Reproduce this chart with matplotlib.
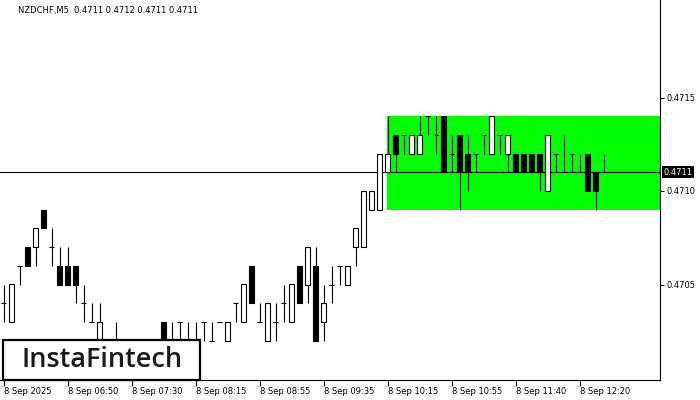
import matplotlib
matplotlib.use("Agg")
import matplotlib.pyplot as plt
from matplotlib.patches import Rectangle

# ---------------- data (NZDCHF, M5) ----------------
opens = [0.4704, 0.4703, 0.4706, 0.4707, 0.4707, 0.4709, 0.4707, 0.4706, 0.4706, 0.4706,
         0.4704, 0.4703, 0.4702, 0.4702, 0.4702, 0.4702, 0.4701, 0.4701, 0.4702, 0.4702,
         0.4703, 0.4702, 0.4703, 0.4702, 0.4702, 0.4703, 0.4702, 0.4703, 0.4702, 0.4704,
         0.4703, 0.4706, 0.4703, 0.4702, 0.4703, 0.4704, 0.4703, 0.4706, 0.4705, 0.4706,
         0.4703, 0.4705, 0.4706, 0.4705, 0.4707, 0.4707, 0.4709, 0.4709, 0.4711, 0.4713,
         0.4713, 0.4712, 0.4712, 0.4714, 0.4713, 0.4714, 0.4712, 0.4713, 0.4712, 0.4712,
         0.4713, 0.4712, 0.4713, 0.4712, 0.4712, 0.4712, 0.4712, 0.4712, 0.4710, 0.4712,
         0.4711, 0.4712, 0.4711, 0.4712, 0.4711, 0.4711]
highs = [0.4705, 0.4705, 0.4706, 0.4707, 0.4708, 0.4709, 0.4708, 0.4707, 0.4707, 0.4706,
         0.4705, 0.4704, 0.4704, 0.4702, 0.4703, 0.4702, 0.4702, 0.4702, 0.4702, 0.4702,
         0.4703, 0.4703, 0.4703, 0.4703, 0.4703, 0.4703, 0.4703, 0.4703, 0.4703, 0.4704,
         0.4705, 0.4706, 0.4704, 0.4704, 0.4704, 0.4705, 0.4705, 0.4706, 0.4707, 0.4707,
         0.4705, 0.4706, 0.4706, 0.4706, 0.4708, 0.4710, 0.4710, 0.4712, 0.4714, 0.4713,
         0.4713, 0.4713, 0.4714, 0.4714, 0.4714, 0.4714, 0.4713, 0.4713, 0.4713, 0.4712,
         0.4713, 0.4714, 0.4713, 0.4713, 0.4712, 0.4712, 0.4712, 0.4712, 0.4713, 0.4712,
         0.4713, 0.4712, 0.4712, 0.4712, 0.4711, 0.4712]
lows = [0.4703, 0.4703, 0.4705, 0.4706, 0.4706, 0.4708, 0.4706, 0.4705, 0.4705, 0.4704,
        0.4703, 0.4703, 0.4702, 0.4701, 0.4701, 0.4701, 0.4701, 0.4701, 0.4701, 0.4701,
        0.4701, 0.4702, 0.4702, 0.4702, 0.4702, 0.4702, 0.4702, 0.4703, 0.4702, 0.4703,
        0.4703, 0.4704, 0.4703, 0.4702, 0.4702, 0.4703, 0.4703, 0.4704, 0.4704, 0.4702,
        0.4702, 0.4704, 0.4705, 0.4705, 0.4706, 0.4707, 0.4709, 0.4709, 0.4711, 0.4711,
        0.4712, 0.4712, 0.4712, 0.4713, 0.4712, 0.4711, 0.4711, 0.4709, 0.4710, 0.4711,
        0.4712, 0.4712, 0.4712, 0.4711, 0.4711, 0.4711, 0.4711, 0.4710, 0.4710, 0.4711,
        0.4711, 0.4711, 0.4711, 0.4710, 0.4709, 0.4711]
closes = [0.4704, 0.4705, 0.4706, 0.4706, 0.4708, 0.4708, 0.4707, 0.4705, 0.4705, 0.4705,
          0.4704, 0.4703, 0.4703, 0.4702, 0.4702, 0.4701, 0.4701, 0.4702, 0.4702, 0.4702,
          0.4702, 0.4702, 0.4703, 0.4702, 0.4702, 0.4703, 0.4702, 0.4703, 0.4703, 0.4704,
          0.4705, 0.4704, 0.4703, 0.4704, 0.4703, 0.4704, 0.4705, 0.4704, 0.4707, 0.4702,
          0.4704, 0.4705, 0.4706, 0.4706, 0.4708, 0.4710, 0.4710, 0.4712, 0.4712, 0.4712,
          0.4713, 0.4713, 0.4713, 0.4714, 0.4713, 0.4711, 0.4712, 0.4711, 0.4711, 0.4712,
          0.4713, 0.4714, 0.4713, 0.4713, 0.4711, 0.4711, 0.4711, 0.4711, 0.4713, 0.4712,
          0.4711, 0.4712, 0.4711, 0.4710, 0.4710, 0.4711]

x_tick_bars = [0, 8, 16, 24, 32, 40, 48, 56, 64, 72]
x_tick_labels = ["8 Sep 2025", "8 Sep 06:50", "8 Sep 07:30", "8 Sep 08:15", "8 Sep 08:55",
                 "8 Sep 09:35", "8 Sep 10:15", "8 Sep 10:55", "8 Sep 11:40", "8 Sep 12:20"]
y_ticks = [0.4705, 0.4710, 0.4715]

zone_start_bar = 48
zone_low, zone_high = 0.4709, 0.4714
bid_price = 0.4711
title = "NZDCHF,M5  0.4711 0.4712 0.4711 0.4711"

# ---------------- layout ----------------
W, H = 700, 400
fig = plt.figure(figsize=(7, 4), dpi=100)
L_px, R_px, T_px, B_px = 0, 660, 0, 380
ax = fig.add_axes([L_px / W, 1 - B_px / H, (R_px - L_px) / W, (B_px - T_px) / H])

bar_px, x0_px = 8.0, 3.6
ax.set_xlim((L_px - x0_px) / bar_px, (R_px - x0_px) / bar_px)
pip_px, base_y = 18.7, 378.0


def price_at(ypx):
    return 0.4700 + (base_y - ypx) / pip_px * 0.0001


ax.set_ylim(price_at(B_px), price_at(T_px))

lw = 0.8
# green zone
ax.add_patch(Rectangle((zone_start_bar - 0.1, zone_low), 200, zone_high - zone_low,
                       facecolor="#00ff00", edgecolor="none", zorder=1))
# bid line
ax.axhline(bid_price, color="black", lw=lw, zorder=2)

# candles
for i, (o, h, l, c) in enumerate(zip(opens, highs, lows, closes)):
    if abs(o - c) < 1e-9:
        ax.vlines(i, l, h, color="black", lw=lw, zorder=3)
        ax.hlines(o, i - 0.3, i + 0.3, color="black", lw=lw, zorder=3)
    else:
        lo, hi = min(o, c), max(o, c)
        ax.vlines(i, l, h, color="black", lw=lw, zorder=3)
        ax.add_patch(Rectangle((i - 0.27, lo), 0.54, hi - lo,
                               facecolor="white" if c > o else "black",
                               edgecolor="black", lw=lw, zorder=4))

# axes styling
for s in ["left", "top"]:
    ax.spines[s].set_visible(False)
for s in ["right", "bottom"]:
    ax.spines[s].set_linewidth(0.8)

ax.yaxis.tick_right()
ax.set_yticks(y_ticks)
ax.set_yticklabels([f"{v:.4f}" for v in y_ticks], fontsize=6)
ax.tick_params(axis="y", length=3, width=0.8, pad=2)

ax.set_xticks(x_tick_bars)
ax.set_xticklabels(x_tick_labels, fontsize=6, ha="left")
ax.tick_params(axis="x", length=4, width=0.8, pad=1)

# bid price label
ax.annotate(f"{bid_price:.4f}", xy=(1, bid_price), xycoords=("axes fraction", "data"),
            xytext=(2.5, 0), textcoords="offset points", fontsize=6, color="white",
            va="center", ha="left",
            bbox=dict(boxstyle="square,pad=0.2", fc="black", ec="none"))

fig.text(18 / W, 1 - 11 / H, title, fontsize=6, va="center", ha="left")

# logo box
fig.add_artist(Rectangle((3 / W, 1 - 380 / H), 197 / W, 40 / H, transform=fig.transFigure,
                         facecolor="white", edgecolor="black", lw=1.6, zorder=10))
fig.text(21 / W, 1 - 360 / H, "InstaFintech", fontsize=19.5, va="center", ha="left",
         family="Open Sans", weight="semibold", color="#1a1a1a", zorder=11)

fig.savefig("out.png", dpi=100)
